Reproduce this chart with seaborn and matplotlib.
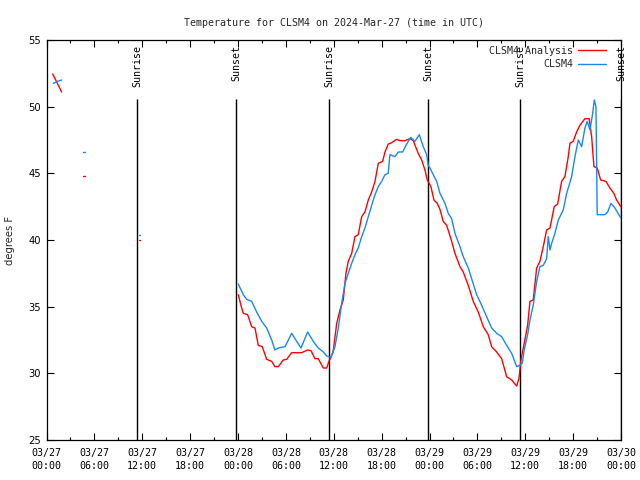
import numpy as np
import pandas as pd
import matplotlib
matplotlib.use("Agg")
import matplotlib.pyplot as plt
import seaborn as sns
from matplotlib.lines import Line2D
from matplotlib.ticker import MultipleLocator

# ---------------- data (hours since 03/27 00:00 UTC, deg F) ----------------
nan = None
analysis_hours = [0.78, 1.9, nan, 4.6, 4.85, nan, 11.6, 11.72, nan,
    24.04, 24.37, 24.66, 25.21, 25.71, 26.13, 26.54, 27.04, 27.59, 28.22, 28.63, 29.05,
    29.67, 30.10, 30.73, 31.98, 32.73, 33.15, 33.65, 34.06, 34.69, 35.11, 35.40, 35.92,
    36.37, 36.78, 37.19, 37.53, 37.82, 38.25, 38.66, 39.07, 39.50, 39.91, 40.33, 40.75,
    41.17, 41.58, 42.13, 42.42, 42.83, 43.26, 43.88, 44.30, 44.92, 45.55, 45.96, 46.59,
    47.02, 47.43, 47.72, 48.18, 48.56, 48.97, 49.31, 49.72, 50.15, 50.78, 51.19, 51.82,
    52.23, 52.86, 53.48, 54.11, 54.74, 55.36, 55.79, 56.42, 57.04, 57.67, 58.30, 58.92,
    59.21, 59.46, 59.87, 60.30, 60.59, 61.00, 61.43, 61.84, 62.26, 62.68, 63.10, 63.63,
    64.06, 64.56, 64.97, 65.39, 65.60, 66.01, 66.44, 66.85, 67.48, 68.02, 68.32, 68.61,
    69.02, 69.45, 70.11, 70.61, 71.11, 71.45, 71.87, 72.0]
analysis_temp = [52.45, 51.1, nan, 44.8, 44.8, nan, 39.97, 39.97, nan,
    35.9, 35.1, 34.5, 34.4, 33.5, 33.4, 32.1, 32.0, 31.05, 30.9, 30.5, 30.5,
    31.0, 31.05, 31.55, 31.55, 31.75, 31.7, 31.1, 31.1, 30.4, 30.4, 30.9, 31.6,
    33.75, 34.75, 35.5, 37.5, 38.4, 39.0, 40.25, 40.4, 41.75, 42.1, 43.0, 43.6,
    44.4, 45.75, 45.9, 46.6, 47.2, 47.3, 47.55, 47.45, 47.45, 47.6, 47.45, 46.5,
    46.0, 45.25, 44.5, 44.0, 43.0, 42.75, 42.3, 41.4, 41.1, 39.9, 39.0, 38.0,
    37.6, 36.6, 35.4, 34.6, 33.5, 32.9, 32.0, 31.6, 31.1, 29.75, 29.5, 29.05,
    29.6, 31.0, 32.25, 33.6, 35.4, 35.5, 37.9, 38.4, 39.5, 40.75, 40.9, 42.5,
    42.7, 44.4, 44.75, 46.25, 47.25, 47.4, 48.1, 48.6, 49.1, 49.1, 47.75, 45.5,
    45.4, 44.5, 44.4, 43.9, 43.5, 43.0, 42.6, 42.5]

obs_hours = [0.85, 1.4, 1.9, nan, 4.6, 4.85, nan, 11.6, 11.72, nan,
    24.04, 24.66, 25.09, 25.71, 26.34, 26.97, 27.59, 28.22, 28.63, 29.05, 29.89, 30.73,
    31.35, 31.89, 32.73, 33.43, 34.06, 34.69, 35.11, 35.65, 36.15, 36.57, 36.99, 37.41,
    37.82, 38.25, 38.66, 39.07, 39.50, 39.91, 40.33, 40.75, 41.17, 41.58, 42.00, 42.42,
    42.83, 43.04, 43.67, 44.09, 44.64, 45.05, 45.64, 46.18, 46.72, 47.22, 47.64, 47.84,
    48.06, 48.47, 48.90, 49.31, 49.94, 50.35, 50.78, 51.19, 51.82, 52.23, 52.86, 53.28,
    53.91, 54.54, 55.16, 55.79, 56.42, 57.04, 57.67, 58.30, 58.92, 59.34, 59.62, 59.87,
    60.30, 60.59, 61.00, 61.43, 61.84, 62.26, 62.68, 62.88, 63.10, 63.31, 63.72, 64.14,
    64.76, 65.19, 65.81, 66.23, 66.64, 67.07, 67.48, 67.77, 68.11, 68.45, 68.65, 68.86,
    69.02, 69.99, 70.33, 70.74, 71.24, 71.87, 72.0]
obs_temp = [51.75, 51.9, 52.0, nan, 46.6, 46.6, nan, 40.35, 40.35, nan,
    36.7, 35.9, 35.55, 35.4, 34.6, 33.9, 33.4, 32.5, 31.75, 31.9, 32.0, 33.0,
    32.4, 31.9, 33.1, 32.4, 31.9, 31.6, 31.3, 31.2, 32.0, 33.4, 35.25, 36.75,
    37.5, 38.25, 38.9, 39.4, 40.25, 40.9, 41.75, 42.6, 43.4, 44.0, 44.4, 44.9,
    45.0, 46.4, 46.25, 46.6, 46.6, 47.1, 47.7, 47.4, 47.9, 47.0, 46.4, 45.6,
    45.4, 44.9, 44.4, 43.5, 42.75, 42.0, 41.6, 40.5, 39.5, 38.75, 37.9, 37.1,
    35.9, 35.1, 34.25, 33.4, 33.0, 32.75, 32.1, 31.5, 30.5, 30.6, 30.75, 31.75,
    32.9, 34.0, 35.1, 36.9, 38.0, 38.1, 38.6, 40.25, 39.25, 39.75, 40.5, 41.5,
    42.25, 43.5, 44.75, 46.25, 47.5, 47.0, 48.4, 48.9, 48.25, 49.5, 50.5, 50.0,
    41.9, 41.9, 42.1, 42.75, 42.4, 41.75, 41.7]

sun_hours = [11.34, 23.75, 35.40, 47.80, 59.34, 71.98]
sun_labels = ["Sunrise", "Sunset", "Sunrise", "Sunset", "Sunrise", "Sunset"]

xtick_hours = [0, 6, 12, 18, 24, 30, 36, 42, 48, 54, 60, 66, 72]
xtick_labels = ["03/27\n00:00", "03/27\n06:00", "03/27\n12:00", "03/27\n18:00",
                "03/28\n00:00", "03/28\n06:00", "03/28\n12:00", "03/28\n18:00",
                "03/29\n00:00", "03/29\n06:00", "03/29\n12:00", "03/29\n18:00",
                "03/30\n00:00"]
yticks = [25, 30, 35, 40, 45, 50, 55]

title = "Temperature for CLSM4 on 2024-Mar-27 (time in UTC)"
series_names = ["CLSM4 Analysis", "CLSM4"]
RED = "#ff0000"
BLUE = "#1a88f0"


def frame(hours, temps):
    df = pd.DataFrame({"hour": pd.array(hours, dtype="Float64").astype(float),
                       "temp": pd.array(temps, dtype="Float64").astype(float)})
    df["seg"] = df["temp"].isna().cumsum()
    return df.dropna().reset_index(drop=True)


df_a = frame(analysis_hours, analysis_temp)
df_o = frame(obs_hours, obs_temp)

sns.set_style("ticks")
plt.rcParams["font.family"] = ["DejaVu Sans Mono", "DejaVu Sans"]
plt.rcParams["font.size"] = 7.2

fig = plt.figure(figsize=(6.4, 4.8), dpi=100)
AX_W = 621 - 46.5
ax = fig.add_axes([46.5 / 640, 40 / 480, AX_W / 640, 400 / 480])

sns.lineplot(data=df_a, x="hour", y="temp", units="seg", estimator=None,
             color=RED, linewidth=1.0, ax=ax, legend=False)
sns.lineplot(data=df_o, x="hour", y="temp", units="seg", estimator=None,
             color=BLUE, linewidth=1.0, ax=ax, legend=False)

for h, lab in zip(sun_hours, sun_labels):
    ax.vlines(h, 25, 50.6, color="black", linewidth=1.0, zorder=1)
    ax.text(h + 0.1, 54.6, lab, rotation=90, ha="center", va="top", fontsize=7.2,
            color="black")

ax.set_xlim(0, 72)
ax.set_ylim(25, 55)
ax.set_xticks(xtick_hours)
ax.set_xticklabels(xtick_labels, linespacing=1.35)
ax.xaxis.set_minor_locator(MultipleLocator(3))
ax.set_yticks(yticks)
ax.set_yticklabels([str(v) for v in yticks], fontfamily="DejaVu Sans")
ax.tick_params(which="both", direction="in", top=True, right=True, width=0.8,
               colors="black", labelsize=7.2)
ax.tick_params(which="major", length=5)
ax.tick_params(which="minor", length=2.5)
ax.tick_params(axis="x", which="major", pad=6)
ax.tick_params(axis="y", which="major", pad=4)
for s in ax.spines.values():
    s.set_linewidth(0.9)
    s.set_color("black")
ax.set_xlabel("")
ax.set_ylabel("degrees F", fontfamily="DejaVu Sans", fontsize=7.2)
ax.yaxis.set_label_coords((15 - 46.5) / AX_W, 0.5)
ax.set_title(title, fontsize=7.2, pad=10)

handles = [Line2D([], [], color=RED, linewidth=1.0),
           Line2D([], [], color=BLUE, linewidth=1.0)]
leg = ax.legend(handles, series_names, loc="upper right", frameon=False,
                bbox_to_anchor=(1 - 9 / AX_W, 1.0),
                markerfirst=False, handlelength=2.8, handletextpad=0.5,
                labelspacing=0.35, borderaxespad=0.2, fontsize=7.2)
for t in leg.get_texts():
    t.set_ha("right")

fig.savefig("out.png", dpi=100, facecolor="white")
